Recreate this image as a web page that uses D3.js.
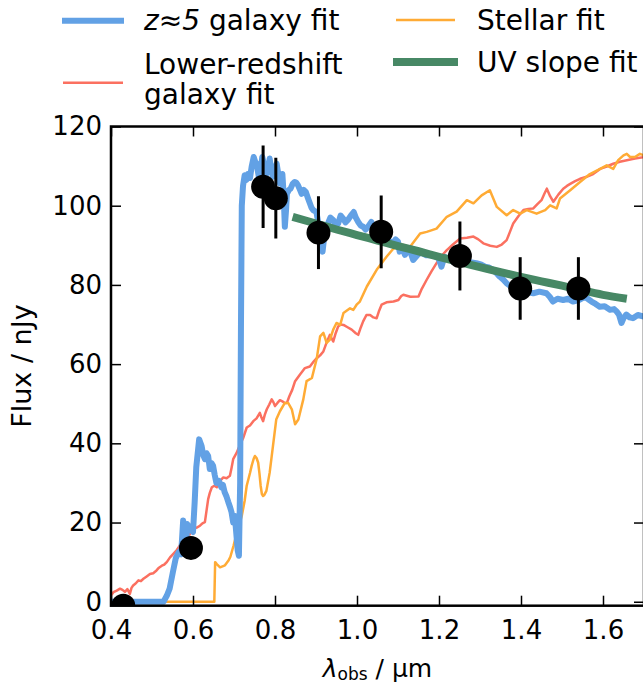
<!DOCTYPE html>
<html>
<head>
<meta charset="utf-8">
<script src="https://cdn.jsdelivr.net/npm/d3@7"></script>
<style>
  html, body { margin: 0; padding: 0; background: #fff; }
  svg { display: block; font-family: "DejaVu Sans", sans-serif; }
</style>
</head>
<body>
<svg id="chart" width="643" height="685"></svg>
<script>
// z~5 galaxy template fit (wavelength in micron, flux in nJy)
const blueLam = [0.40,0.45,0.50,0.528,0.536,0.543,0.551,0.558,0.565,0.571,0.576,0.579,0.582,0.586,0.592,0.600,0.604,0.608,0.615,0.621,0.625,0.629,0.633,0.637,0.641,0.645,0.649,0.653,0.657,0.663,0.669,0.673,0.677,0.682,0.686,0.690,0.694,0.698,0.702,0.706,0.709,0.712,0.715,0.717,0.719,0.722,0.726,0.730,0.734,0.739,0.743,0.748,0.752,0.755,0.761,0.765,0.769,0.774,0.779,0.783,0.787,0.791,0.795,0.799,0.804,0.808,0.812,0.818,0.821,0.824,0.827,0.829,0.834,0.838,0.843,0.848,0.852,0.856,0.861,0.865,0.870,0.875,0.880,0.885,0.889,0.893,0.901,0.905,0.909,0.912,0.916,0.921,0.925,0.929,0.935,0.942,0.948,0.954,0.960,0.966,0.972,0.978,0.985,0.992,0.997,1.003,1.009,1.015,1.021,1.027,1.035,1.042,1.049,1.057,1.065,1.072,1.080,1.088,1.094,1.100,1.104,1.110,1.117,1.123,1.129,1.133,1.137,1.147,1.157,1.163,1.169,1.182,1.194,1.200,1.206,1.210,1.214,1.224,1.234,1.247,1.257,1.267,1.279,1.291,1.302,1.312,1.322,1.332,1.340,1.348,1.357,1.365,1.377,1.389,1.402,1.415,1.430,1.445,1.462,1.470,1.478,1.489,1.503,1.515,1.527,1.542,1.552,1.560,1.572,1.582,1.592,1.604,1.617,1.627,1.633,1.639,1.645,1.651,1.657,1.665,1.673,1.685,1.700];
const blueFlux = [0,0,0,0,1.5,3.3,7.5,11,12.5,12,20.5,17,12,19.6,18.5,17.6,25,34,41,39.3,37,36,37.5,36.8,33.5,35,34.3,32,30,30.5,28.9,29.5,27.7,26.5,25.2,24,22.6,20,21.7,16.7,13,11.6,30,70,100,105,107.7,106.5,108,107,109.8,112.3,111,110.7,107,109,112.3,110,108,109,111.9,109,107.3,108.5,110.6,108,105.6,108,103,94.7,99,103,104,104.3,105.5,106,105.8,105.2,104,103,104,103.5,102,100.6,99.5,98.9,98.4,96,93,90,88.4,93,94.5,95.5,97,96.4,95,95.5,97.5,96.8,95.8,96.4,97.5,98.4,97,95.9,95,94.7,94,94.7,95.9,93.5,93,92.5,92.3,91.7,91,90.5,91.5,90.9,88.4,89.5,87.6,88.5,89.2,87.5,86.3,87.5,88.4,87.8,87.5,87.5,87.1,86.5,84.6,86,87.1,86.5,85.9,86.2,86.4,85.9,85.7,85.5,85.2,84.6,84.4,83.8,83,82.1,81.3,80.4,79.5,78.7,78.5,78.2,77.9,78.3,77.9,77,75.8,76.5,76.2,76.5,75.8,76.2,76.8,76.7,75.8,75.2,74.5,74.6,73.7,73.9,73.3,72.5,70.4,71.8,72.5,71.8,71.6,72.4,72];

// lower-redshift galaxy template fit
const redLam = [0.400,0.406,0.414,0.422,0.428,0.434,0.440,0.446,0.450,0.454,0.460,0.467,0.473,0.479,0.487,0.495,0.503,0.511,0.517,0.524,0.530,0.536,0.544,0.552,0.560,0.568,0.576,0.585,0.593,0.601,0.609,0.617,0.623,0.629,0.633,0.637,0.641,0.646,0.652,0.658,0.666,0.674,0.682,0.690,0.694,0.698,0.706,0.715,0.723,0.731,0.739,0.747,0.755,0.763,0.767,0.771,0.775,0.780,0.786,0.792,0.796,0.800,0.806,0.812,0.818,0.824,0.829,0.835,0.842,0.849,0.861,0.873,0.885,0.893,0.902,0.910,0.918,0.926,0.934,0.938,0.942,0.948,0.954,0.960,0.967,0.977,0.987,0.997,1.003,1.009,1.015,1.023,1.032,1.040,1.048,1.054,1.060,1.072,1.089,1.101,1.108,1.113,1.130,1.150,1.158,1.170,1.182,1.194,1.206,1.219,1.234,1.251,1.268,1.284,1.296,1.308,1.325,1.341,1.353,1.365,1.373,1.381,1.394,1.406,1.418,1.430,1.440,1.450,1.457,1.463,1.471,1.479,1.491,1.503,1.512,1.520,1.532,1.544,1.560,1.576,1.593,1.609,1.625,1.641,1.658,1.678,1.700];
const redFlux = [1.6,2.4,2.8,3.3,3.0,2.5,3.2,2.0,3.5,4.1,4.6,5.4,5.2,5.8,6.4,7.0,7.2,7.9,8.6,9.1,9.4,10.0,11.2,12.1,13.0,14.2,14.9,15.8,17.2,18.4,18.7,19.2,19.8,20.1,23,25.9,27.5,28.9,29.3,28.9,30.5,31.4,31.2,31.8,33.8,36,37.5,39.7,41.5,44,44.5,45.6,46.3,47.7,46.5,45.6,47.2,48.6,49.8,51.1,50.4,49.4,50.2,50.9,50.6,50.2,50.2,51.9,53.5,55.7,57.4,59.0,59.4,60.5,61.5,62.2,63.2,65.5,67.4,66.5,65.7,67.8,69.5,70.0,69.9,69.3,68.7,67.8,67.4,69.2,70.8,72.4,72.4,71.8,71.6,73.5,75.0,75.6,75.8,76.2,77.2,77.5,77.0,77.1,79,81.3,83.5,85.5,87.3,88.8,90.2,91.7,91.9,92.2,91.5,90.5,89.9,89.6,90.2,91.3,93.4,95.5,97.4,98.9,99.2,99.3,100.4,101.4,103,104.3,102.4,101.0,102.8,104.3,105.0,105.5,106.2,106.8,107.3,108.0,109.3,109.9,110.6,111.1,111.5,111.9,112.3];

// stellar template fit
const orangeLam = [0.400,0.500,0.600,0.652,0.654,0.658,0.666,0.678,0.687,0.691,0.699,0.707,0.719,0.726,0.731,0.739,0.743,0.748,0.751,0.755,0.759,0.762,0.765,0.768,0.771,0.774,0.779,0.787,0.795,0.803,0.812,0.824,0.832,0.841,0.849,0.857,0.869,0.877,0.890,0.902,0.910,0.918,0.926,0.934,0.942,0.950,0.959,0.967,0.983,0.991,0.999,1.007,1.024,1.048,1.072,1.089,1.113,1.129,1.154,1.170,1.194,1.219,1.243,1.268,1.284,1.304,1.324,1.341,1.365,1.381,1.398,1.414,1.438,1.459,1.471,1.487,1.495,1.520,1.544,1.568,1.593,1.609,1.625,1.637,1.650,1.658,1.666,1.678,1.690,1.700];
const orangeFlux = [0,0,0,0,10.0,9.5,8.7,9.2,10.5,11.3,14.2,17.5,21.7,25.5,29.3,32.5,34.3,36.1,36.8,36.3,35.1,32.5,29.3,27.2,26.7,27.0,28.0,32.6,39.3,46.0,48.1,50.2,50.2,48.6,44.8,46,51.1,55.7,56.5,61.5,67,67.9,65.4,66.2,68.7,70.4,69.9,72.9,74.1,73.7,75,75.8,79.6,83.8,87.1,89.2,90.1,89.6,93.0,93.4,94.2,97.2,98.5,101.4,100.6,102.6,103.9,99.7,97.6,98.9,98.0,98.9,98.0,98.9,100.1,99.3,101.8,103.9,106.0,108.0,109.3,110.2,109.3,111.5,112.7,113.1,112.3,112.3,113.1,112.7];

// UV continuum slope fit
const greenLam = [0.843,0.90,0.95,1.00,1.05,1.10,1.15,1.20,1.25,1.30,1.35,1.40,1.45,1.50,1.55,1.60,1.658];
const greenFlux = [97.2,95.5,94.0,92.6,91.2,89.8,88.5,87.1,85.8,84.5,83.2,82.0,80.9,79.8,78.6,77.5,76.5];

// photometry with 1-sigma uncertainties
const photLam  = [0.430,0.595,0.771,0.802,0.906,1.059,1.251,1.398,1.540];
const photFlux = [-1.0,13.6,104.8,101.9,93.2,93.4,87.3,79.1,79.1];
const photErr  = [0.5,1.0,10.4,10.2,9.2,9.2,8.7,7.9,7.9];

const xTicks = [0.4,0.6,0.8,1.0,1.2,1.4,1.6];
const yTicks = [0,20,40,60,80,100,120];

const legendItems = [
  {key: "blue",   color: "#62a1e5", width: 6},
  {key: "red",    color: "#fb7060", width: 2.5},
  {key: "orange", color: "#ffab35", width: 2.5},
  {key: "green",  color: "#478865", width: 8}
];

const svg = d3.select("#chart");
const pLeft = 111, pRight = 644, pTop = 126.5, pBottom = 605.7;

const x = d3.scaleLinear().domain([0.4, 1.7]).range([pLeft, pRight]);
const y = d3.scaleLinear().domain([-1, 120]).range([pBottom, pTop]);

svg.append("defs").append("clipPath").attr("id", "plotclip")
  .append("rect").attr("x", pLeft).attr("y", pTop)
  .attr("width", pRight - pLeft).attr("height", pBottom - pTop);

const plot = svg.append("g").attr("clip-path", "url(#plotclip)");

const line = d3.line().x(d => x(d[0])).y(d => y(d[1]));
const zipped = (a, b) => a.map((v, i) => [v, b[i]]);

function drawSeries(lam, flux, color, width) {
  plot.append("path")
    .datum(zipped(lam, flux))
    .attr("d", line)
    .attr("fill", "none")
    .attr("stroke", color)
    .attr("stroke-width", width)
    .attr("stroke-linejoin", "round")
    .attr("stroke-linecap", "butt");
}

drawSeries(redLam, redFlux, legendItems[1].color, legendItems[1].width);
drawSeries(orangeLam, orangeFlux, legendItems[2].color, legendItems[2].width);
drawSeries(blueLam, blueFlux, legendItems[0].color, legendItems[0].width);

plot.append("path")
  .datum(zipped(greenLam, greenFlux))
  .attr("d", d3.line().x(d => x(d[0])).y(d => y(d[1])).curve(d3.curveMonotoneX))
  .attr("fill", "none")
  .attr("stroke", legendItems[3].color)
  .attr("stroke-width", legendItems[3].width);

// photometric points with error bars
const phot = photLam.map((l, i) => ({l, f: photFlux[i], e: photErr[i]}));
plot.selectAll("line.err").data(phot).join("line")
  .attr("class", "err")
  .attr("x1", d => x(d.l)).attr("x2", d => x(d.l))
  .attr("y1", d => y(d.f - d.e)).attr("y2", d => y(d.f + d.e))
  .attr("stroke", "#000").attr("stroke-width", 3);
plot.selectAll("circle.pt").data(phot).join("circle")
  .attr("class", "pt")
  .attr("cx", d => x(d.l)).attr("cy", d => y(d.f))
  .attr("r", 12).attr("fill", "#000");

// axes with inward ticks on all four sides
const tickFont = 26;
function styleAxis(g) {
  g.select(".domain").remove();
  g.selectAll(".tick line").attr("stroke", "#000").attr("stroke-width", 1.5);
  g.selectAll(".tick text").attr("fill", "#000")
    .attr("font-size", tickFont).attr("font-family", "DejaVu Sans");
}

svg.append("g").attr("transform", `translate(0,${pBottom})`)
  .call(d3.axisBottom(x).tickValues(xTicks).tickFormat(d3.format(".1f"))
    .tickSizeInner(-10).tickSizeOuter(0).tickPadding(15))
  .call(styleAxis);
svg.append("g").attr("transform", `translate(0,${pTop})`)
  .call(d3.axisTop(x).tickValues(xTicks).tickFormat("")
    .tickSizeInner(-10).tickSizeOuter(0))
  .call(styleAxis);
svg.append("g").attr("transform", `translate(${pLeft},0)`)
  .call(d3.axisLeft(y).tickValues(yTicks).tickFormat(d3.format("d"))
    .tickSizeInner(-10).tickSizeOuter(0).tickPadding(9))
  .call(styleAxis);
svg.append("g").attr("transform", `translate(${pRight},0)`)
  .call(d3.axisRight(y).tickValues(yTicks).tickFormat("")
    .tickSizeInner(-10).tickSizeOuter(0))
  .call(styleAxis);

// frame
svg.append("rect")
  .attr("x", pLeft).attr("y", pTop)
  .attr("width", pRight - pLeft).attr("height", pBottom - pTop)
  .attr("fill", "none").attr("stroke", "#000").attr("stroke-width", 2.5);

// axis titles
const xTitle = svg.append("text")
  .attr("x", (pLeft + pRight) / 2).attr("y", 677)
  .attr("text-anchor", "middle").attr("font-size", 25).attr("fill", "#000");
xTitle.append("tspan").attr("font-style", "italic").text("λ");
xTitle.append("tspan").attr("font-size", 17).attr("dy", 3).text("obs");
xTitle.append("tspan").attr("dy", -3).text(" / μm");

svg.append("text")
  .attr("transform", `translate(31,${(pTop + pBottom) / 2}) rotate(-90)`)
  .attr("text-anchor", "middle").attr("font-size", 27).attr("fill", "#000")
  .text("Flux / nJy");

// legend
const legend = svg.append("g").attr("font-size", 28).attr("fill", "#000");
function legendLine(x1, x2, yy, item) {
  legend.append("line").attr("x1", x1).attr("x2", x2).attr("y1", yy).attr("y2", yy)
    .attr("stroke", item.color).attr("stroke-width", item.width);
}
legendLine(62, 124, 20.7, legendItems[0]);
legendLine(63, 123, 82.7, legendItems[1]);
legendLine(396, 455, 20, legendItems[2]);
legendLine(393, 458, 62, legendItems[3]);

const t1 = legend.append("text").attr("x", 144).attr("y", 30);
t1.append("tspan").attr("font-style", "italic").text("z");
t1.append("tspan").text("≈");
t1.append("tspan").attr("font-style", "italic").text("5");
t1.append("tspan").text(" galaxy fit");

const t2 = legend.append("text").attr("x", 144).attr("y", 74);
t2.append("tspan").attr("x", 144).text("Lower-redshift");
t2.append("tspan").attr("x", 144).attr("dy", 30).text("galaxy fit");

legend.append("text").attr("x", 477).attr("y", 30).text("Stellar fit");
legend.append("text").attr("x", 477).attr("y", 72).text("UV slope fit");
</script>
</body>
</html>
